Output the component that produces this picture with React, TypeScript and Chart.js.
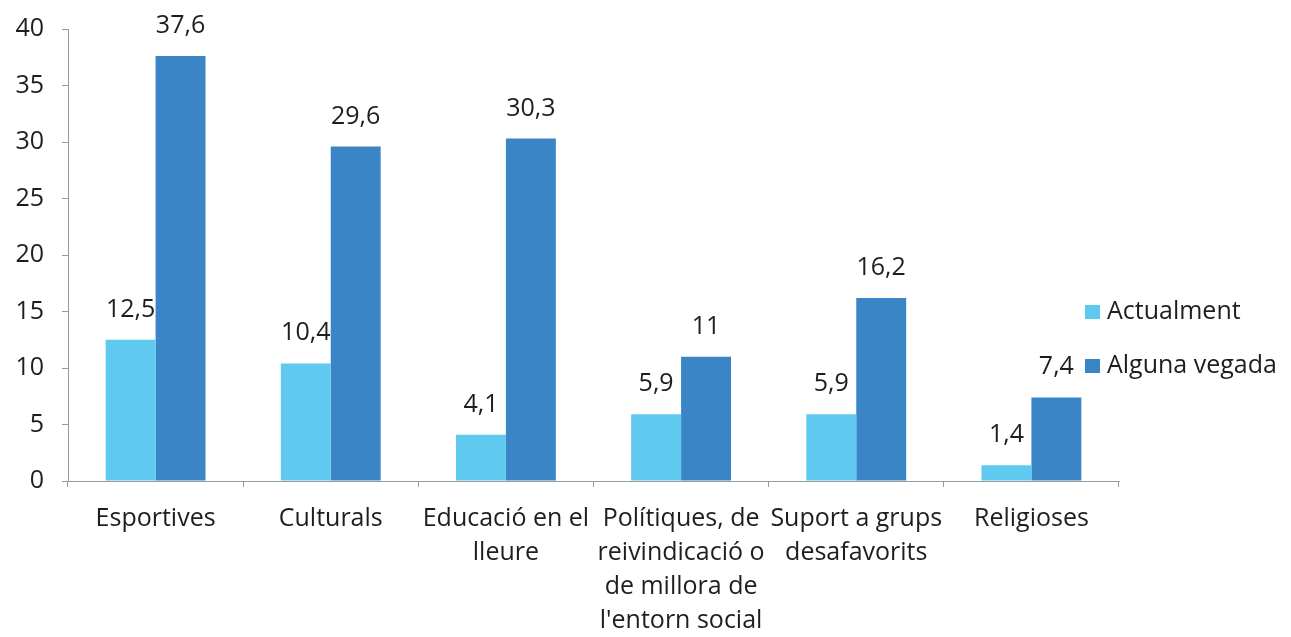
import React, { useEffect, useRef } from "react";
import { Chart, registerables } from "chart.js";

Chart.register(...registerables);

const categories: string[][] = [
  ["Esportives"],
  ["Culturals"],
  ["Educació en el", "lleure"],
  ["Polítiques, de", "reivindicació o", "de millora de", "l'entorn social"],
  ["Suport a grups", "desafavorits"],
  ["Religioses"],
];
const seriesNames = ["Actualment", "Alguna vegada"];
const actualment = [12.5, 10.4, 4.1, 5.9, 5.9, 1.4];
const algunaVegada = [37.6, 29.6, 30.3, 11, 16.2, 7.4];
const yMin = 0;
const yMax = 40;
const yStep = 5;

const colors = ["rgb(96, 201, 240)", "rgb(58, 133, 198)"];
const FONT = "'Open Sans', sans-serif";
const FS = 25;
const TEXT = "#1e1e1e";
const AXIS = "#9a9a9a";

const fmt = (v: number) => String(v).replace(".", ",");

const valueLabels = {
  id: "valueLabels",
  afterDatasetsDraw(chart: any) {
    const ctx = chart.ctx;
    ctx.save();
    ctx.font = `${FS}px ${FONT}`;
    ctx.fillStyle = TEXT;
    ctx.textAlign = "center";
    ctx.textBaseline = "alphabetic";
    chart.data.datasets.forEach((ds: any, i: number) => {
      const meta = chart.getDatasetMeta(i);
      meta.data.forEach((bar: any, j: number) => {
        ctx.fillText(fmt(ds.data[j]), bar.x, bar.y - 23);
      });
    });
    ctx.restore();
  },
};

const sideLegend = {
  id: "sideLegend",
  afterDraw(chart: any) {
    const ctx = chart.ctx;
    const x0 = chart.chartArea.right - 34;
    const ys = [312, 366];
    ctx.save();
    ctx.font = `${FS}px ${FONT}`;
    ctx.textBaseline = "middle";
    ctx.textAlign = "left";
    seriesNames.forEach((name, i) => {
      ctx.fillStyle = colors[i];
      ctx.fillRect(x0, ys[i] - 7, 15, 14);
      ctx.fillStyle = TEXT;
      ctx.fillText(name, x0 + 22, ys[i]);
    });
    ctx.restore();
  },
};

export default function App() {
  const ref = useRef<HTMLCanvasElement | null>(null);
  useEffect(() => {
    document.body.style.margin = "0";
    const canvas = ref.current!;
    const chart = new Chart(canvas, {
      type: "bar",
      data: {
        labels: categories,
        datasets: [
          {
            label: seriesNames[0],
            data: actualment,
            backgroundColor: colors[0],
            categoryPercentage: 0.57,
            barPercentage: 1.0,
          },
          {
            label: seriesNames[1],
            data: algunaVegada,
            backgroundColor: colors[1],
            categoryPercentage: 0.57,
            barPercentage: 1.0,
          },
        ],
      },
      options: {
        responsive: false,
        animation: false,
        layout: { padding: { top: 29, right: 172, bottom: 0, left: 0 } },
        plugins: {
          legend: { display: false },
          tooltip: { enabled: false },
        },
        scales: {
          x: {
            grid: {
              display: true,
              drawOnChartArea: false,
              drawTicks: true,
              tickLength: 6,
              color: AXIS,
              offset: true,
            },
            border: { display: true, color: AXIS, width: 1 },
            ticks: {
              font: { family: FONT, size: FS, lineHeight: 34 / FS },
              color: TEXT,
              padding: 15,
              maxRotation: 0,
              autoSkip: false,
            },
            afterFit(scale: any) {
              scale.height = 156;
              scale.paddingLeft = 0;
              scale.paddingRight = 0;
            },
          },
          y: {
            min: yMin,
            max: yMax,
            grid: {
              display: true,
              drawOnChartArea: false,
              drawTicks: true,
              tickLength: 6,
              color: AXIS,
            },
            border: { display: true, color: AXIS, width: 1 },
            ticks: {
              stepSize: yStep,
              font: { family: FONT, size: FS },
              color: TEXT,
              padding: 18,
            },
            afterFit(scale: any) {
              scale.width = 68;
              scale.paddingTop = 0;
              scale.paddingBottom = 0;
            },
          },
        },
      },
      plugins: [valueLabels, sideLegend],
    });
    return () => chart.destroy();
  }, []);
  return (
    <div style={{ position: "absolute", left: 0, top: 0, width: 1291, height: 637, background: "#fff" }}>
      <canvas ref={ref} width={1291} height={637} />
    </div>
  );
}
